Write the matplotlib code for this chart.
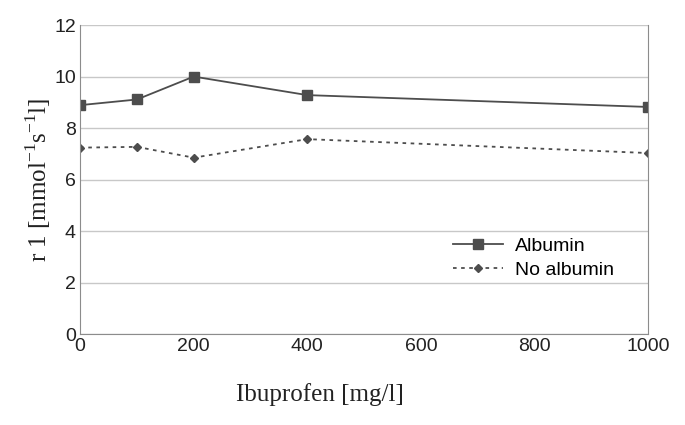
import matplotlib.pyplot as plt

# данные
ibuprofen = [0, 100, 200, 400, 1000]
albumin = [8.89, 9.11, 10.0, 9.28, 8.82]
no_albumin = [7.24, 7.27, 6.85, 7.57, 7.03]
x_ticks = [0, 200, 400, 600, 800, 1000]
y_ticks = [0, 2, 4, 6, 8, 10, 12]

fig = plt.figure(figsize=(6.85, 4.25), dpi=100)
ax = fig.add_axes([0.117, 0.214, 0.829, 0.727])

col = '#4d4d4d'
ax.plot(ibuprofen, albumin, '-', color=col, lw=1.3, marker='s', ms=6.5, label='Albumin')
ax.plot(ibuprofen, no_albumin, color=col, lw=1.3, dashes=(2, 2.5), marker='D', ms=4.5,
        label='No albumin')

ax.set_xlim(0, 1000)
ax.set_ylim(0, 12)
ax.set_xticks(x_ticks)
ax.set_yticks(y_ticks)
ax.grid(axis='y', color='#c8c8c8', lw=1)
ax.set_axisbelow(True)
for s in ax.spines.values():
    s.set_color('#8c8c8c')
ax.spines['top'].set_visible(False)
ax.tick_params(length=0, labelsize=14, labelcolor='#222222', pad=3)
for lab in ax.get_xticklabels() + ax.get_yticklabels():
    lab.set_family('Liberation Sans')

ax.set_xlabel('Ibuprofen [mg/l]', family='Liberation Serif', fontsize=18, color='#222222')
ax.xaxis.set_label_coords(0.422, -0.16)
ax.set_ylabel(r'r 1 [mmol$^{\mathregular{-1}}$s$^{\mathregular{-1}}$l]', family='Liberation Serif',
              fontsize=18, color='#222222')
ax.yaxis.set_label_coords(-0.048, 0.5)

leg = ax.legend(loc='upper left', bbox_to_anchor=(0.625, 0.37), frameon=False,
                handlelength=2.6, labelspacing=0.35, handletextpad=0.6,
                prop={'family': 'Liberation Sans', 'size': 14})

plt.savefig('out.png', dpi=100)
